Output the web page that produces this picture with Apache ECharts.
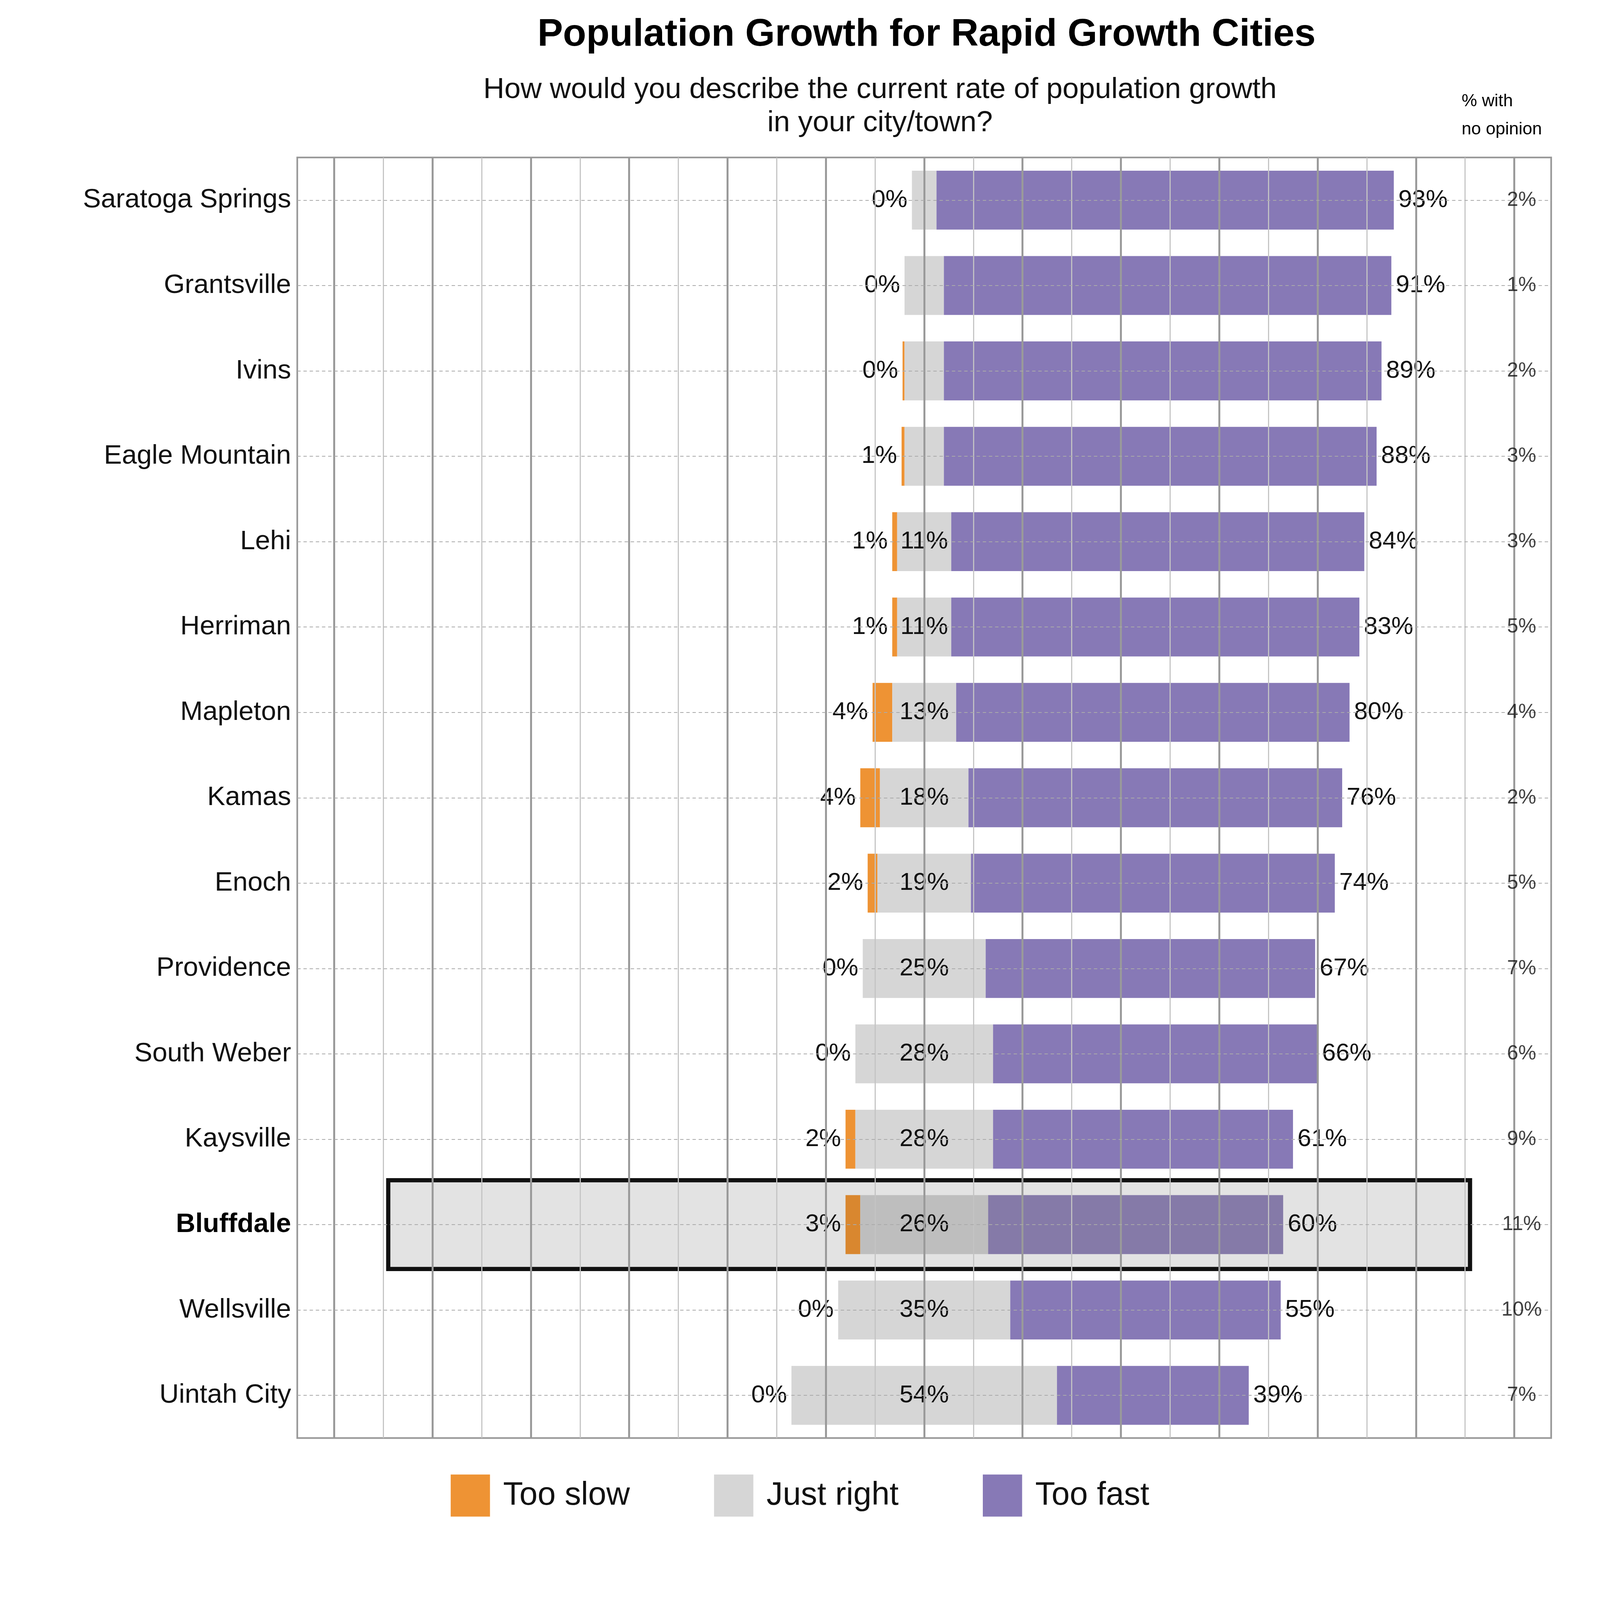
<!DOCTYPE html>
<html><head><meta charset="utf-8">
<script src="https://cdn.jsdelivr.net/npm/echarts@6/dist/echarts.min.js"></script>
<style>html,body{margin:0;padding:0;background:#fff;overflow:hidden}#c{width:100vw;height:100vh}</style>
</head><body><div id="c"></div>
<script>
const cities=["Saratoga Springs","Grantsville","Ivins","Eagle Mountain","Lehi","Herriman","Mapleton","Kamas","Enoch","Providence","South Weber","Kaysville","Bluffdale","Wellsville","Uintah City"];
const tooSlow=[0,0,0.4,0.6,1,1,4,4,2,0,0,2,3,0,0];
const justRight=[5,8,8,8,11,11,13,18,19,25,28,28,26,35,54];
const tooFast=[93,91,89,88,84,83,80,76,74,67,66,61,60,55,39];
const noOpinion=[2,1,2,3,3,5,4,2,5,7,6,9,11,10,7];
const slowLabels=["0%","0%","0%","1%","1%","1%","4%","4%","2%","0%","0%","2%","3%","0%","0%"];
const highlight="Bluffdale";
const hi=cities.indexOf(highlight);
const W=window.innerWidth||5700, H=window.innerHeight||4200;
const S=Math.min(W/5700,H/4200);
const F="Liberation Sans, Arial, sans-serif";
const col={slow:'#EE9334',jr:'#D6D6D6',fast:'#8779B6'};
const colHi={slow:'#D9872F',jr:'#BEBEBE',fast:'#857AA8'};
const gridVals=[];for(let v=-120;v<=120;v+=10)gridVals.push(v);
const chart=echarts.init(document.getElementById('c'));
const base=cities.map((c,i)=>-(justRight[i]/2+tooSlow[i]));
function mk(arr,key){return arr.map((v,i)=>({value:v,itemStyle:{color:i===hi?colHi[key]:col[key]}}));}
const lbl={fontFamily:F,fontSize:88*S,color:'#111'};
chart.setOption({
  animation:false,
  title:[{text:'Population Growth for Rapid Growth Cities',left:3294*S,top:50*S,textAlign:'center',textStyle:{fontFamily:F,fontSize:136*S,fontWeight:'bold',color:'#000'}},
    {text:'How would you describe the current rate of population growth\nin your city/town?',left:3128*S,top:255*S,textAlign:'center',textStyle:{fontFamily:F,fontSize:104*S,fontWeight:'normal',color:'#111',lineHeight:118*S}},
    {text:'% with\nno opinion',left:5200*S,top:305*S,textStyle:{fontFamily:F,fontSize:62*S,fontWeight:'normal',color:'#000',lineHeight:100*S}}],
  legend:{bottom:290*S,left:'center',itemWidth:140*S,itemHeight:150*S,itemGap:300*S,icon:'rect',data:['Too slow','Just right','Too fast'],textStyle:{fontFamily:F,fontSize:116*S,color:'#111',padding:[0,0,0,40*S]}},
  grid:{left:1059*S,right:174*S,top:561*S,bottom:577*S,show:true,borderColor:'#999',borderWidth:6*S,backgroundColor:'transparent'},
  xAxis:{type:'value',min:-127.5,max:127.5,show:false,splitLine:{show:false}},
  yAxis:{type:'category',data:cities,inverse:true,axisLine:{show:false},axisTick:{show:false},splitLine:{show:false},
    axisLabel:{margin:22*S,fontFamily:F,fontSize:96*S,color:'#111',formatter:(v)=>v===highlight?'{b|'+v+'}':v,rich:{b:{fontFamily:F,fontSize:96*S,fontWeight:'bold',color:'#000'}}}},
  series:[
    {type:'custom',silent:true,z:1,data:[[0,hi]],renderItem:(p,api)=>{const a=api.coord([-109,hi]);const b=api.coord([111,hi]);const h=api.size([0,1])[1]*1.04;
      return {type:'rect',shape:{x:a[0],y:a[1]-h/2,width:b[0]-a[0],height:h},style:{fill:'#E3E3E3',stroke:'#111',lineWidth:15*S}};}},
    {type:'bar',name:'base',stack:'s',stackStrategy:'all',data:base,itemStyle:{color:'transparent'},barWidth:'69%',silent:true,z:3,
      markLine:{silent:true,symbol:'none',label:{show:false},animation:false,
        data:gridVals.map(v=>({xAxis:v,lineStyle:{color:v%20===0?'#9a9a9a':'#c4c4c4',width:(v%20===0?7:4)*S,type:'solid'}}))
          .concat(cities.map(c=>({yAxis:c,lineStyle:{color:'#aaa',width:3*S,type:[12*S,10*S]}})))}},
    {type:'bar',name:'Too slow',stack:'s',stackStrategy:'all',data:mk(tooSlow,'slow'),itemStyle:{color:col.slow},z:4,
      label:{show:true,position:'left',distance:16*S,...lbl,formatter:p=>slowLabels[p.dataIndex]}},
    {type:'bar',name:'Just right',stack:'s',stackStrategy:'all',data:mk(justRight,'jr'),itemStyle:{color:col.jr},z:4,
      label:{show:true,position:'inside',...lbl,formatter:p=>p.value>=10?Math.round(p.value)+'%':''}},
    {type:'bar',name:'Too fast',stack:'s',stackStrategy:'all',data:mk(tooFast,'fast'),itemStyle:{color:col.fast},z:4,
      label:{show:true,position:'right',distance:16*S,...lbl,formatter:p=>p.value+'%'}},
    {type:'scatter',name:'noop',symbolSize:0,data:noOpinion.map((v,i)=>[121.5,i,v]),z:5,silent:true,
      label:{show:true,position:'inside',fontFamily:F,fontSize:72*S,color:'#111',formatter:p=>p.value[2]+'%'}}
  ]
});
</script></body></html>
